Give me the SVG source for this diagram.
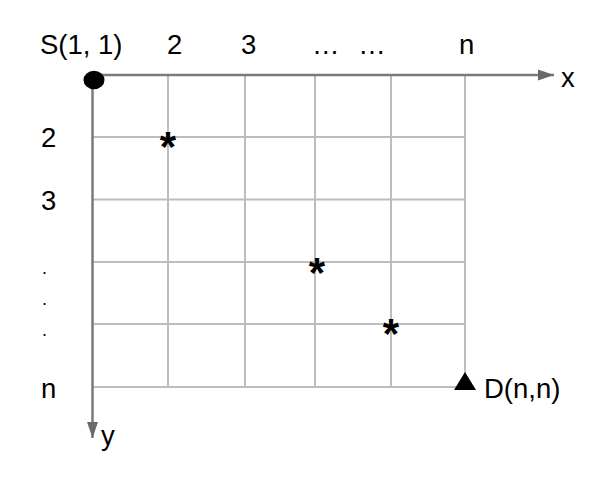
<svg xmlns="http://www.w3.org/2000/svg" width="612" height="496" viewBox="0 0 612 496">
<defs>
<style>
.lbl{font-family:"Liberation Sans",Arial,sans-serif;font-size:27.5px;fill:#000}
.dot{font-family:"Liberation Sans",Arial,sans-serif;font-size:18px;fill:#000}
.star{font-family:"Liberation Sans",Arial,sans-serif;font-size:42px;font-weight:bold;fill:#000;text-anchor:middle}
.grid{stroke:#bdbdbd;stroke-width:2;fill:none}
.axis{stroke:#7a7a7a;stroke-width:2.5;fill:none}
</style>
<marker id="arr" markerUnits="userSpaceOnUse" markerWidth="17" markerHeight="12" refX="16" refY="6" orient="auto">
<path d="M0,0.5 L16,6 L0,11.5 Z" fill="#6a6a6a"/>
</marker>
</defs>
<rect width="612" height="496" fill="#fff"/>
<g id="grid">
<line class="grid" x1="93" y1="137" x2="465" y2="137"/>
<line class="grid" x1="93" y1="199.5" x2="465" y2="199.5"/>
<line class="grid" x1="93" y1="262" x2="465" y2="262"/>
<line class="grid" x1="93" y1="324" x2="465" y2="324"/>
<line class="grid" x1="93" y1="387" x2="465" y2="387"/>
<line class="grid" x1="168" y1="75" x2="168" y2="387"/>
<line class="grid" x1="245" y1="75" x2="245" y2="387"/>
<line class="grid" x1="315" y1="75" x2="315" y2="387"/>
<line class="grid" x1="391" y1="75" x2="391" y2="387"/>
<line class="grid" x1="465" y1="75" x2="465" y2="387"/>
</g>
<g id="connectors">
<line class="axis" x1="93" y1="75" x2="554" y2="75" marker-end="url(#arr)"/>
<line class="axis" x1="92.5" y1="75" x2="92.5" y2="438" marker-end="url(#arr)"/>
</g>
<g id="source">
<ellipse cx="94" cy="80" rx="10.5" ry="9.3" fill="#000"/>
<text class="lbl" x="40" y="54">S(1, 1)</text>
</g>
<g id="dest">
<polygon points="454,390 476,390 465,372" fill="#000"/>
<text class="lbl" x="484" y="398">D(n,n)</text>
</g>
<g id="xlabels">
<text class="lbl" x="167" y="54">2</text>
<text class="lbl" x="241" y="54">3</text>
<text class="lbl" x="312" y="54" style="word-spacing:11px">… …</text>
<text class="lbl" x="459" y="54">n</text>
<text class="lbl" x="561" y="87">x</text>
</g>
<g id="ylabels">
<text class="lbl" x="41" y="147">2</text>
<text class="lbl" x="41" y="210">3</text>
<text class="dot" x="42" y="274">.</text>
<text class="dot" x="42" y="305">.</text>
<text class="dot" x="42" y="336">.</text>
<text class="lbl" x="41" y="398">n</text>
<text class="lbl" x="101" y="445">y</text>
</g>
<g id="stars">
<text class="star" x="168" y="161">*</text>
<text class="star" x="317" y="287">*</text>
<text class="star" x="391" y="348">*</text>
</g>
</svg>
